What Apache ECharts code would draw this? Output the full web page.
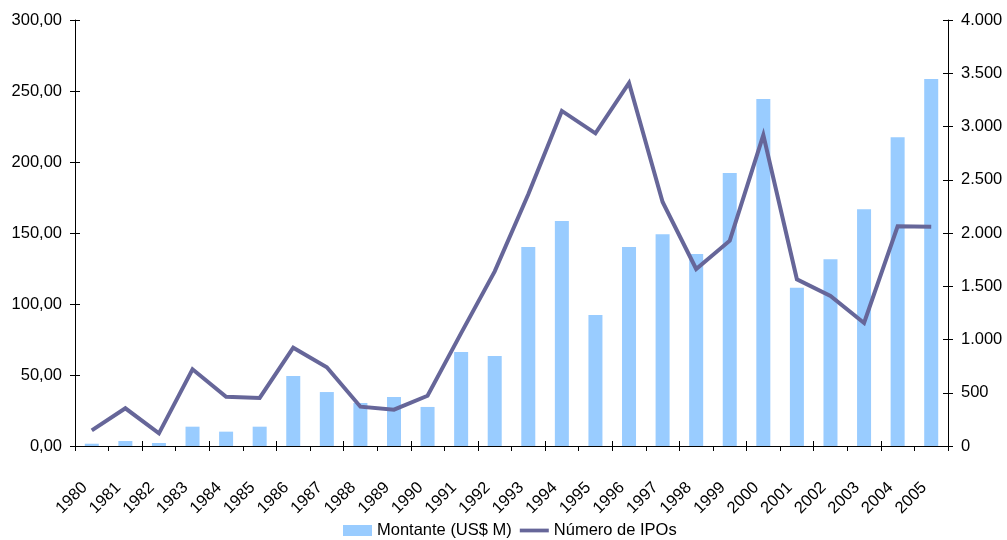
<!DOCTYPE html>
<html>
<head>
<meta charset="utf-8">
<script src="https://cdn.jsdelivr.net/npm/echarts@6/dist/echarts.min.js"></script>
<style>
  html, body { margin: 0; padding: 0; background: #fff; }
  #chart { width: 1007px; height: 540px; }
</style>
</head>
<body>
<div id="chart"></div>
<script>
// Years on the category axis
const years = ['1980','1981','1982','1983','1984','1985','1986','1987','1988','1989',
  '1990','1991','1992','1993','1994','1995','1996','1997','1998','1999',
  '2000','2001','2002','2003','2004','2005'];

// Amount raised per year (US$ millions), left axis
const montante = [1.6, 3.5, 2.1, 13.6, 10.1, 13.6, 49.3, 38.0, 30.3, 34.5,
  27.5, 66.2, 63.4, 140.1, 158.4, 92.2, 140.1, 149.2, 135.2, 192.2,
  244.3, 111.4, 131.6, 166.8, 217.5, 258.4];

// Number of IPOs per year, right axis
const ipos = [147, 354, 119, 720, 463, 451, 923, 739, 369, 341,
  472, 1060, 1640, 2363, 3146, 2936, 3409, 2291, 1662, 1928,
  2920, 1565, 1408, 1155, 2063, 2058];

// Axis scales
const leftMax = 300, leftStep = 50;
const rightMax = 4000, rightStep = 500;

const FONT = '"Liberation Sans", Arial, sans-serif';
const TXT = '#000000';
const FS = 16.5;

const fmtLeft = v => v.toFixed(2).replace('.', ',');
const fmtRight = v => String(Math.round(v)).replace(/\B(?=(\d{3})+(?!\d))/g, '.');

const chart = echarts.init(document.getElementById('chart'), null, { renderer: 'canvas' });

const axisLine = { show: true, lineStyle: { color: '#000', width: 1 } };
const tickStyle = { color: '#000', width: 1 };

chart.setOption({
  animation: false,
  backgroundColor: '#ffffff',
  textStyle: { fontFamily: FONT, color: TXT },
  grid: { left: 75, right: 59, top: 20, bottom: 94, containLabel: false },
  legend: {
    bottom: 1,
    left: 343,
    padding: 0,
    itemWidth: 29,
    itemHeight: 11,
    itemGap: 8,
    textStyle: { fontFamily: FONT, fontSize: FS, color: TXT },
    data: [
      { name: 'Montante (US$ M)', icon: 'rect' },
      { name: 'Número de IPOs', icon: 'path://M0,0 L31,0 L31,4 L0,4 Z', itemStyle: { color: '#666699' } }
    ]
  },
  xAxis: [
    {
      type: 'category',
      data: years,
      boundaryGap: true,
      axisLine: axisLine,
      axisTick: { show: true, length: 5, inside: false, alignWithLabel: false, lineStyle: tickStyle },
      axisLabel: {
        interval: 0,
        rotate: 45,
        margin: 32,
        padding: [0, 10, 0, 0],
        fontFamily: FONT,
        fontSize: FS,
        color: TXT
      },
      splitLine: { show: false }
    },
    {
      // inner half of the crossing ticks
      type: 'category',
      data: years,
      position: 'bottom',
      boundaryGap: true,
      axisLine: { show: false },
      axisTick: { show: true, length: 5, inside: true, lineStyle: tickStyle },
      axisLabel: { show: false },
      splitLine: { show: false }
    }
  ],
  yAxis: [
    {
      type: 'value',
      position: 'left',
      min: 0, max: leftMax, interval: leftStep,
      axisLine: axisLine,
      axisTick: { show: true, length: 5, lineStyle: tickStyle },
      axisLabel: { margin: 13, formatter: fmtLeft, fontFamily: FONT, fontSize: FS, color: TXT },
      splitLine: { show: false }
    },
    {
      type: 'value',
      position: 'right',
      min: 0, max: rightMax, interval: rightStep,
      axisLine: axisLine,
      axisTick: { show: true, length: 5, lineStyle: tickStyle },
      axisLabel: { margin: 13, formatter: fmtRight, fontFamily: FONT, fontSize: FS, color: TXT },
      splitLine: { show: false }
    },
    {
      type: 'value',
      position: 'left',
      min: 0, max: leftMax, interval: leftStep,
      axisLine: { show: false },
      axisTick: { show: true, length: 5, inside: true, lineStyle: tickStyle },
      axisLabel: { show: false },
      splitLine: { show: false }
    },
    {
      type: 'value',
      position: 'right',
      min: 0, max: rightMax, interval: rightStep,
      axisLine: { show: false },
      axisTick: { show: true, length: 5, inside: true, lineStyle: tickStyle },
      axisLabel: { show: false },
      splitLine: { show: false }
    }
  ],
  series: [
    {
      name: 'Montante (US$ M)',
      type: 'bar',
      xAxisIndex: 0,
      yAxisIndex: 0,
      data: montante,
      barWidth: 14,
      itemStyle: { color: '#99CCFF' },
      z: 2
    },
    {
      name: 'Número de IPOs',
      type: 'line',
      xAxisIndex: 0,
      yAxisIndex: 1,
      data: ipos,
      symbol: 'none',
      showSymbol: false,
      lineStyle: { color: '#666699', width: 4, join: 'miter' },
      itemStyle: { color: '#666699' },
      z: 3
    }
  ]
});
</script>
</body>
</html>
